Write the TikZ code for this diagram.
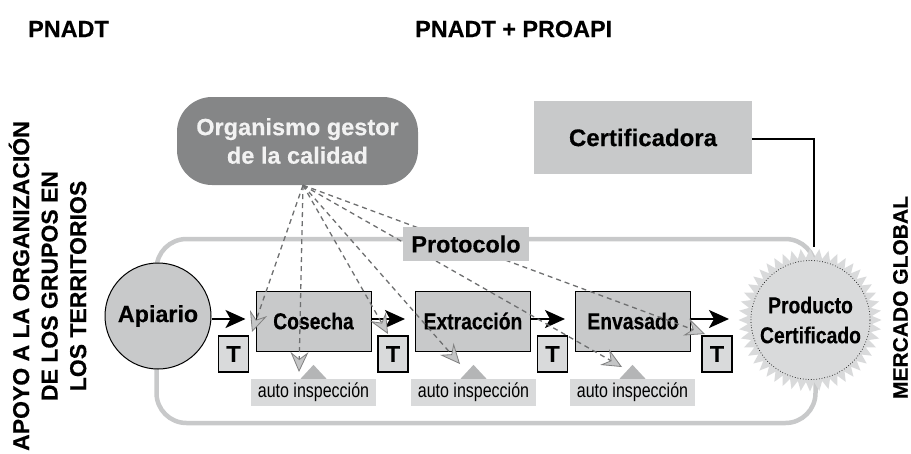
\documentclass[tikz,border=0pt]{standalone}
\usepackage{fontspec}
\setmainfont[BoldFeatures={FakeBold=0.35}]{Liberation Sans}
\newfontfamily\narrowf[FakeStretch=0.84,BoldFeatures={FakeBold=0.35}]{Liberation Sans}
\newfontfamily\autof[FakeStretch=0.8]{Liberation Sans}
\usetikzlibrary{arrows.meta,shapes.geometric}
\definecolor{midg}{HTML}{C8C9CA}
\definecolor{lightg}{HTML}{D9DADB}
\definecolor{darkg}{HTML}{858687}
\definecolor{dashg}{HTML}{6E6F70}
\definecolor{tipg}{HTML}{C4C5C6}
\tikzset{
  head/.style={font=\fontsize{23.4}{28}\bfseries\selectfont,inner sep=0pt,anchor=west},
  vert/.style={font=\fontsize{23}{28.5}\bfseries\selectfont,rotate=90,align=center,inner sep=0pt},
  stepbox/.style={draw=black,line width=1pt,fill=midg,minimum width=115pt,minimum height=60pt,inner sep=0pt,font=\narrowf\fontsize{23}{27}\bfseries\selectfont},
  tbox/.style={draw=black,line width=1.3pt,fill=lightg,minimum width=30pt,minimum height=36pt,inner sep=0pt,font=\fontsize{23}{27}\bfseries\selectfont},
  autob/.style={fill=lightg,minimum width=125pt,minimum height=27pt,inner sep=0pt,font=\autof\fontsize{20}{24}\selectfont},
  tri/.style={fill=midg!90!black,draw=none},
  flow/.style={-{Stealth[length=20pt,width=18pt,inset=5pt]},line width=2pt,black},
  insp/.style={dash pattern=on 5pt off 4pt,line width=1.3pt,draw=dashg,
    -{Stealth[length=20pt,width=18pt,inset=7pt,fill=tipg,color=gray,line width=.8pt]}},
}
\begin{document}
\begin{tikzpicture}[x=1pt,y=-1pt]
\useasboundingbox (0,0) rectangle (911,453);
\node[head] (p1) at (28,29) {PNADT};
\node[head] (p2) at (415,29) {PNADT + PROAPI};
\node[vert] (left) at (47.5,286) {APOYO A LA ORGANIZACIÓN\\DE LOS GRUPOS EN\\LOS TERRITORIOS};
\node[vert,font=\fontsize{21}{25}\bfseries\selectfont] (right) at (900.5,297.5) {MERCADO GLOBAL};
% frame
\node[draw=midg,line width=4.5pt,rounded corners=30pt,minimum width=659pt,minimum height=184pt,inner sep=0pt] (frame) at (486,331) {};
% organism
\node[fill=darkg,rounded corners=35pt,minimum width=241pt,minimum height=88pt,inner sep=0pt,align=center,text=white!95!black,font=\fontsize{23.5}{28.5}\bfseries\selectfont] (org) at (297.5,141) {Organismo gestor\\de la calidad};
\node[fill=midg,minimum width=218pt,minimum height=73pt,inner sep=0pt,font=\fontsize{24}{28}\bfseries\selectfont] (cert) at (643,137.5) {Certificadora};
% seal
\node[star,star points=48,star point ratio=1.15,minimum size=143pt,inner sep=0pt,fill=lightg,draw=none] (seal) at (810,320) {};
\node[circle,draw=black,dotted,line width=.7pt,minimum size=119pt,inner sep=0pt,align=center,font=\narrowf\fontsize{23}{30}\bfseries\selectfont] (sealt) at (810.5,320) {Producto\\Certificado};
\draw[line width=1.5pt] ([yshift=-1.5pt]cert.east) -| ([xshift=4pt,yshift=1pt]seal.north);
% nodes
\node[circle,draw=black,line width=1pt,fill=midg,minimum size=106pt,inner sep=0pt,font=\fontsize{23.3}{27}\bfseries\selectfont] (api) at (158,316) {Apiario};
\node[stepbox] (cos) at (313.5,321) {Cosecha};
\node[stepbox] (ext) at (473,321) {Extracción};
\node[stepbox] (env) at (633,321) {Envasado};
\node[tbox] (t1) at (233.5,354) {T};
\node[tbox] (t2) at (393,354) {T};
\node[tbox] (t3) at (552.5,354) {T};
\node[tbox] (t4) at (717,354) {T};
\node[autob] (a1) at (313.5,392.5) {auto inspección};
\node[autob] (a2) at (473.5,392.5) {auto inspección};
\node[autob] (a3) at (632.5,392.5) {auto inspección};
\fill[tri] (a1.north) ++(-13,0) -- ++(13,-14) -- ++(13,14) -- cycle;
\fill[tri] (a2.north) ++(-13,0) -- ++(13,-14) -- ++(13,14) -- cycle;
\fill[tri] (a3.north) ++(-13,0) -- ++(13,-14) -- ++(13,14) -- cycle;
% flow
\draw[flow,shorten >=10pt] ([yshift=-3pt]api.east) -- ([yshift=2pt]cos.west);
\draw[flow,shorten >=10pt] ([yshift=2pt]cos.east) -- ([yshift=2pt]ext.west);
\draw[flow,shorten >=10pt] ([yshift=2pt]ext.east) -- ([yshift=2pt]env.west);
\draw[flow,shorten >=9pt] ([yshift=2pt]env.east) -- ([yshift=1pt]seal.west);
% inspections
\coordinate (o) at ([xshift=5.5pt]org.south);
\coordinate (e1) at (252,332);
\coordinate (e2) at (299,372);
\coordinate (e3) at (388,334);
\coordinate (e4) at (460,364);
\coordinate (e5) at (622,367);
\coordinate (e6) at (705,334);
\foreach \e in {e1,e2,e3,e4,e5,e6} \draw[insp] (o) -- (\e);
\node[fill=midg,minimum width=126pt,minimum height=34pt,inner sep=0pt,font=\fontsize{23.4}{28}\bfseries\selectfont] (prot) at (466,244) {Protocolo};
\end{tikzpicture}
\end{document}
